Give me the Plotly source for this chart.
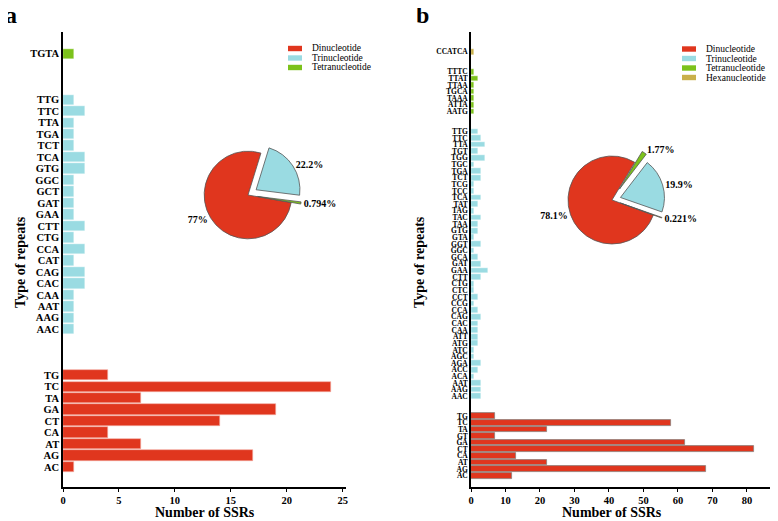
import plotly.graph_objects as go

RED = "#e0361e"
CYAN = "#9adbe2"
GREEN = "#7cc21b"
GOLD = "#c9b04b"
SERIF = "Liberation Serif, Times New Roman, serif"

# ---- panel a (listed bottom -> top) ----
A_DI_LABELS = ["AC", "AG", "AT", "CA", "CT", "GA", "TA", "TC", "TG"]
A_DI_VALUES = [1, 17, 7, 4, 14, 19, 7, 24, 4]
A_TRI_LABELS = ["AAC", "AAG", "AAT", "CAA", "CAC", "CAG", "CAT", "CCA", "CTG", "CTT", "GAA",
                "GAT", "GCT", "GGC", "GTG", "TCA", "TCT", "TGA", "TTA", "TTC", "TTG"]
A_TRI_VALUES = [1, 1, 1, 1, 2, 2, 1, 2, 1, 2, 1, 1, 1, 1, 2, 2, 1, 1, 1, 2, 1]
A_TETRA_LABELS = ["TGTA"]
A_TETRA_VALUES = [1]

# ---- panel b (listed bottom -> top) ----
B_DI_LABELS = ["AC", "AG", "AT", "CA", "CT", "GA", "GT", "TA", "TC", "TG"]
B_DI_VALUES = [12, 68, 22, 13, 82, 62, 7, 22, 58, 7]
B_TRI_LABELS = ["AAC", "AAG", "AAT", "ACA", "ACC", "AGA", "AGC", "ATC", "ATG", "ATT", "CAA",
                "CAC", "CAG", "CCA", "CCG", "CCT", "CTC", "CTG", "CTT", "GAA", "GAT", "GCA",
                "GGC", "GGT", "GTA", "GTG", "TAA", "TAC", "TAG", "TAT", "TCA", "TCC", "TCG",
                "TCT", "TGA", "TGC", "TGG", "TGT", "TTA", "TTC", "TTG"]
B_TRI_VALUES = [3, 3, 3, 1, 2, 3, 1, 1, 2, 2, 2,
                2, 3, 2, 1, 2, 1, 1, 3, 5, 3, 2,
                1, 3, 1, 2, 2, 3, 1, 2, 3, 1, 1,
                3, 3, 1, 4, 2, 4, 3, 2]
B_TETRA_LABELS = ["AATG", "ATTA", "TAAA", "TGCA", "TTAA", "TTAT", "TTTC"]
B_TETRA_VALUES = [1, 1, 1, 1, 1, 2, 1]
B_HEXA_LABELS = ["CCATCA"]
B_HEXA_VALUES = [1]

NAMES = ["Dinucleotide", "Trinucleotide", "Tetranucleotide", "Hexanucleotide"]
COLORS = [RED, CYAN, GREEN, GOLD]

# page body adds an 8px offset; positions below are in screenshot pixels
OFF = 8
W, H = 778 - OFF, 521 - OFF
ML, MT, PW, PH = 63 - OFF, 32 - OFF, 715, 455


def px_x(x):
    return (x - OFF - ML) / PW


def px_y(y):
    return 1 - (y - OFF - MT) / PH


def slots(groups, step):
    """slot index of each bar, with blank slots between groups"""
    out, start = [], 0
    for labels in groups:
        out.append([start + i for i in range(len(labels))])
        start += len(labels) - 1 + step
    return out


fig = go.Figure()


def add_panel(groups, values, step, xa, ya, width, di_line):
    pos = slots(groups, step)
    ticks, texts = [], []
    for k, (labels, vals, p) in enumerate(zip(groups, values, pos)):
        line = di_line if k == 0 else dict(color="white", width=0.4)
        fig.add_trace(go.Bar(
            orientation="h", x=vals, y=p, width=width, xaxis=xa, yaxis=ya,
            marker=dict(color=COLORS[k], line=line),
            showlegend=False, hoverinfo="x+text", text=labels, textposition="none",
        ))
        ticks += p
        texts += labels
    return ticks, texts


a_groups = [A_DI_LABELS, A_TRI_LABELS, A_TETRA_LABELS]
a_vals = [A_DI_VALUES, A_TRI_VALUES, A_TETRA_VALUES]
b_groups = [B_DI_LABELS, B_TRI_LABELS, B_TETRA_LABELS, B_HEXA_LABELS]
b_vals = [B_DI_VALUES, B_TRI_VALUES, B_TETRA_VALUES, B_HEXA_VALUES]

a_ticks, a_texts = add_panel(a_groups, a_vals, 4, "x", "y", 0.9, dict(color="#f3aaa0", width=0.6))
b_ticks, b_texts = add_panel(b_groups, b_vals, 3, "x2", "y2", 0.86, dict(color="#8a7f7a", width=0.8))

# pies from group totals
pie_font = dict(family=SERIF, size=10, color="black", weight="bold")
fig.add_trace(go.Pie(
    labels=NAMES[:3], values=[sum(v) for v in a_vals], sort=False, direction="clockwise",
    rotation=100, pull=[0, 0.22, 0.22],
    marker=dict(colors=COLORS[:3], line=dict(color="#555555", width=0.8)),
    textinfo="percent", textposition="outside", textfont=pie_font,
    domain=dict(x=[px_x(194.5), px_x(301.5)], y=[px_y(248.5), px_y(141.5)]), showlegend=False,
))
b_order = [0, 2, 1, 3]
fig.add_trace(go.Pie(
    labels=[NAMES[i] for i in b_order], values=[sum(b_vals[i]) for i in b_order], sort=False,
    direction="clockwise", rotation=110, pull=[0, 0.3, 0.2, 0.2],
    marker=dict(colors=[COLORS[i] for i in b_order], line=dict(color="#555555", width=0.8)),
    textinfo="percent", textposition="outside", textfont=pie_font,
    domain=dict(x=[px_x(554.8), px_x(669.2)], y=[px_y(257.2), px_y(142.8)]), showlegend=False,
))

axis_common = dict(showline=True, linecolor="black", linewidth=1.5, showgrid=False, zeroline=False,
                   automargin=False)
xtick = dict(family=SERIF, size=10.5, color="black", weight="bold")

fig.update_layout(
    width=W, height=H, template="plotly_white",
    plot_bgcolor="white", paper_bgcolor="white",
    margin=dict(l=ML, r=W - ML - PW, t=MT, b=H - MT - PH, autoexpand=False),
    bargap=0,
    xaxis=dict(domain=[0, px_x(346)], range=[0, 25.3], anchor="y", tickvals=[0, 5, 10, 15, 20, 25],
               ticks="outside", ticklen=3, tickcolor="black", tickfont=xtick, **axis_common),
    yaxis=dict(domain=[0, 1], anchor="x", range=[-1.74, 37.9], tickvals=a_ticks, ticktext=a_texts,
               ticks="", tickfont=dict(family=SERIF, size=10.5, color="black", weight="bold"),
               **axis_common),
    xaxis2=dict(domain=[px_x(471), 1], range=[0, 89], anchor="y2", tickvals=list(range(0, 90, 10)),
                ticks="outside", ticklen=3, tickcolor="black", tickfont=xtick, **axis_common),
    yaxis2=dict(domain=[0, 1], anchor="x2", range=[-1.7, 67], tickvals=b_ticks, ticktext=b_texts,
                ticks="", tickfont=dict(family=SERIF, size=7.5, color="black", weight="bold"),
                **axis_common),
)

title_font = dict(family=SERIF, size=14, color="black", weight="bold")
# axis titles
for xc in [204.5, 612]:
    fig.add_annotation(text="Number of SSRs", xref="paper", yref="paper", x=px_x(xc), y=px_y(512),
                       showarrow=False, xanchor="center", yanchor="middle", font=title_font)
for xc in [20, 419]:
    fig.add_annotation(text="Type of repeats", xref="paper", yref="paper", x=px_x(xc), y=px_y(262),
                       showarrow=False, textangle=-90, xanchor="center", yanchor="middle", font=title_font)

# panel letters
for letter, xc in [("a", 11), ("b", 422)]:
    fig.add_annotation(text=letter, xref="paper", yref="paper", x=px_x(xc), y=px_y(15), showarrow=False,
                       xanchor="center", yanchor="middle",
                       font=dict(family=SERIF, size=24, color="black", weight="bold"))


# compact legends (patch + label)
def add_legend(x_px, y_px, n):
    for i in range(n):
        yc = y_px + i * 9.5
        fig.add_shape(type="rect", xref="paper", yref="paper", x0=px_x(x_px), x1=px_x(x_px + 14),
                      y0=px_y(yc + 2.7), y1=px_y(yc - 2.7), fillcolor=COLORS[i], line=dict(width=0))
        fig.add_annotation(text=NAMES[i], xref="paper", yref="paper", x=px_x(x_px + 22), y=px_y(yc),
                           xanchor="left", yanchor="middle", showarrow=False,
                           font=dict(family=SERIF, size=9.5, color="black"))


add_legend(288, 48.5, 3)
add_legend(682, 49, 4)

fig.write_html("out.html")
